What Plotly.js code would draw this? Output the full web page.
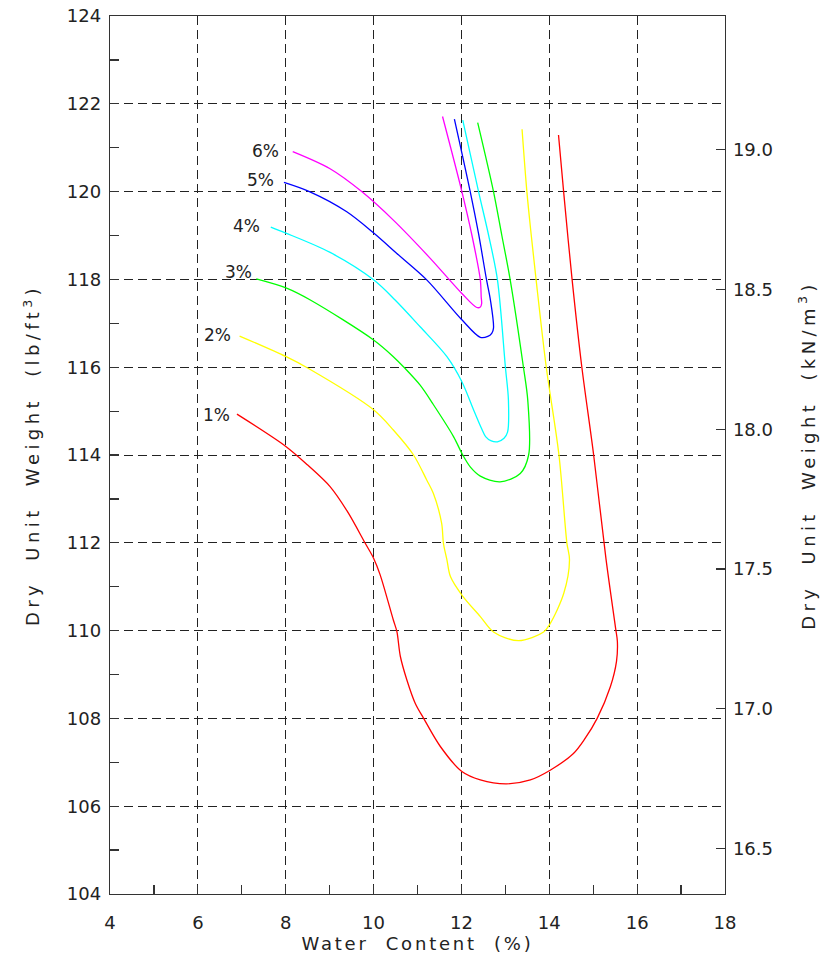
<!DOCTYPE html>
<html>
<head>
<meta charset="utf-8">
<script src="https://cdn.plot.ly/plotly-3.0.1.min.js"></script>
<style>
  html, body { margin: 0; padding: 0; background: #fff; }
  .xtitle { letter-spacing: 2.8px; transform: translateY(-5px) !important; }
  .ytitle, .y2title { letter-spacing: 4.4px; }
</style>
</head>
<body>
<div id="chart" style="width:828px;height:963px;"></div>
<script>
// ---- data (water content %, dry unit weight lb/ft^3) ----
const curveNames = ["1%", "2%", "3%", "4%", "5%", "6%"];
const curveColors = ["#ff0000", "#ffff00", "#00ff00", "#00ffff", "#0000ff", "#ff00ff"];

const x1 = [6.89, 8.01, 8.5, 9.01, 9.4, 9.81, 10.0, 10.15, 10.45, 10.53, 10.61, 10.76, 10.95, 11.14, 11.52, 12.01, 12.43, 13.02, 13.57, 14.02, 14.55, 14.8, 15.09, 15.39, 15.53, 15.55, 15.51, 15.29, 15.01, 14.74, 14.52, 14.33, 14.21];
const y1 = [114.93, 114.19, 113.77, 113.28, 112.72, 111.99, 111.65, 111.27, 110.24, 109.98, 109.41, 108.87, 108.34, 108.0, 107.36, 106.79, 106.6, 106.51, 106.6, 106.82, 107.2, 107.52, 108.0, 108.72, 109.3, 109.75, 110.05, 111.64, 114.0, 116.01, 117.99, 119.96, 121.29];

const x2 = [6.95, 8.01, 8.52, 10.0, 10.45, 10.91, 11.21, 11.36, 11.55, 11.59, 11.67, 11.75, 12.01, 12.43, 12.73, 13.30, 13.87, 14.02, 14.33, 14.46, 14.40, 14.22, 13.93, 13.70, 13.59, 13.49, 13.38];
const y2 = [116.71, 116.24, 115.97, 115.03, 114.57, 114.0, 113.43, 113.13, 112.44, 111.99, 111.61, 111.23, 110.81, 110.32, 109.97, 109.77, 109.97, 110.16, 110.85, 111.61, 112.0, 114.0, 116.01, 117.99, 119.0, 120.0, 121.42];

const x3 = [7.33, 8.02, 8.56, 10.0, 10.45, 10.68, 11.06, 11.36, 11.82, 12.03, 12.20, 12.43, 12.88, 13.34, 13.53, 13.51, 13.41, 13.11, 12.92, 12.73, 12.37];
const y3 = [118.01, 117.8, 117.53, 116.62, 116.24, 116.01, 115.59, 115.15, 114.42, 114.0, 113.73, 113.52, 113.39, 113.58, 114.0, 115.25, 116.01, 117.99, 119.0, 120.0, 121.57];

const x4 = [7.66, 7.99, 9.0, 10.0, 10.49, 11.06, 11.67, 12.01, 12.28, 12.45, 12.55, 12.68, 12.82, 12.97, 13.05, 13.07, 13.0, 12.82, 12.62, 12.39, 12.03];
const y4 = [119.19, 119.06, 118.62, 117.99, 117.53, 116.92, 116.24, 115.67, 115.02, 114.62, 114.42, 114.32, 114.3, 114.38, 114.52, 115.25, 116.01, 117.99, 119.0, 120.0, 121.63];

const x5 = [7.96, 8.54, 9.39, 10.01, 10.53, 11.21, 12.01, 12.43, 12.6, 12.69, 12.73, 12.66, 12.57, 12.39, 12.20, 11.84];
const y5 = [120.21, 120.0, 119.54, 119.05, 118.59, 117.99, 117.08, 116.68, 116.7, 116.77, 116.89, 117.53, 118.0, 119.04, 120.0, 121.65];

const x6 = [8.16, 9.01, 9.73, 10.45, 11.29, 12.01, 12.35, 12.43, 12.46, 12.45, 12.43, 12.24, 12.01, 11.57];
const y6 = [120.91, 120.52, 120.0, 119.35, 118.48, 117.68, 117.36, 117.37, 117.45, 117.6, 117.99, 119.0, 120.0, 121.71];

const curveX = [x1, x2, x3, x4, x5, x6];
const curveY = [y1, y2, y3, y4, y5, y6];

// label anchor points (right edge of text, middle)
const labelX = [6.77, 6.81, 7.27, 7.46, 7.77, 7.90];
const labelY = [114.91, 116.73, 118.18, 119.22, 120.26, 120.92];

// axes
const xRange = [4, 18];
const yRange = [104, 124];
const kNperPcf = 0.157087;
const y2TickVals = [16.5, 17.0, 17.5, 18.0, 18.5, 19.0];
const y2TickText = ["16.5", "17.0", "17.5", "18.0", "18.5", "19.0"];

// ---- build ----
const FONT = "DejaVu Sans, Liberation Sans, sans-serif";
const traces = curveX.map((xs, i) => ({
  x: xs, y: curveY[i], type: "scatter", mode: "lines",
  name: curveNames[i],
  line: { color: curveColors[i], width: 1.3, shape: "spline", smoothing: 0.9 },
  showlegend: false, hoverinfo: "skip"
}));
traces.push({
  x: [xRange[0]], y: [yRange[0] * kNperPcf], yaxis: "y2", type: "scatter",
  mode: "none", showlegend: false, hoverinfo: "skip"
});

const annotations = curveNames.map((t, i) => ({
  x: labelX[i], y: labelY[i], xref: "x", yref: "y", text: t,
  showarrow: false, xanchor: "right", yanchor: "middle",
  font: { family: FONT, size: 17, color: "#222" }
}));

const axisCommon = {
  ticks: "inside", ticklen: 9, tickwidth: 1.2, tickcolor: "#333",
  showline: true, linecolor: "#333", linewidth: 1.3,
  tickfont: { family: FONT, size: 18, color: "#222" },
  zeroline: false
};

const layout = {
  width: 828, height: 963,
  margin: { l: 110, r: 103, t: 16, b: 69, pad: 0 },
  paper_bgcolor: "#fff", plot_bgcolor: "#fff",
  showlegend: false,
  xaxis: Object.assign({}, axisCommon, {
    range: xRange, tick0: 4, dtick: 2, mirror: true,
    showgrid: true, gridcolor: "#222", gridwidth: 1, griddash: "9px,5px",
    minor: { dtick: 1, ticks: "inside", ticklen: 9, tickwidth: 1.2, tickcolor: "#333", showgrid: false },
    ticklabelstandoff: 12,
    title: { text: "Water  Content  (%)", font: { family: FONT, size: 18, color: "#222" }, standoff: 0 }
  }),
  yaxis: Object.assign({}, axisCommon, {
    range: yRange, tick0: 104, dtick: 2,
    showgrid: true, gridcolor: "#222", gridwidth: 1, griddash: "9px,5px",
    minor: { dtick: 1, ticks: "inside", ticklen: 9, tickwidth: 1.2, tickcolor: "#333", showgrid: false },
    ticklabelstandoff: 4,
    title: { text: "Dry  Unit  Weight  (lb/ft<sup>3</sup>)", font: { family: FONT, size: 18, color: "#222" }, standoff: 22 }
  }),
  yaxis2: Object.assign({}, axisCommon, {
    overlaying: "y", side: "right", anchor: "x",
    range: [yRange[0] * kNperPcf, yRange[1] * kNperPcf],
    tickmode: "array", tickvals: y2TickVals, ticktext: y2TickText,
    showgrid: false, ticklabelstandoff: 3,
    title: { text: "Dry  Unit  Weight  (kN/m<sup>3</sup>)", font: { family: FONT, size: 18, color: "#222" }, standoff: 30 }
  }),
  annotations: annotations
};

Plotly.newPlot("chart", traces, layout, { staticPlot: true, displayModeBar: false });
</script>
</body>
</html>
